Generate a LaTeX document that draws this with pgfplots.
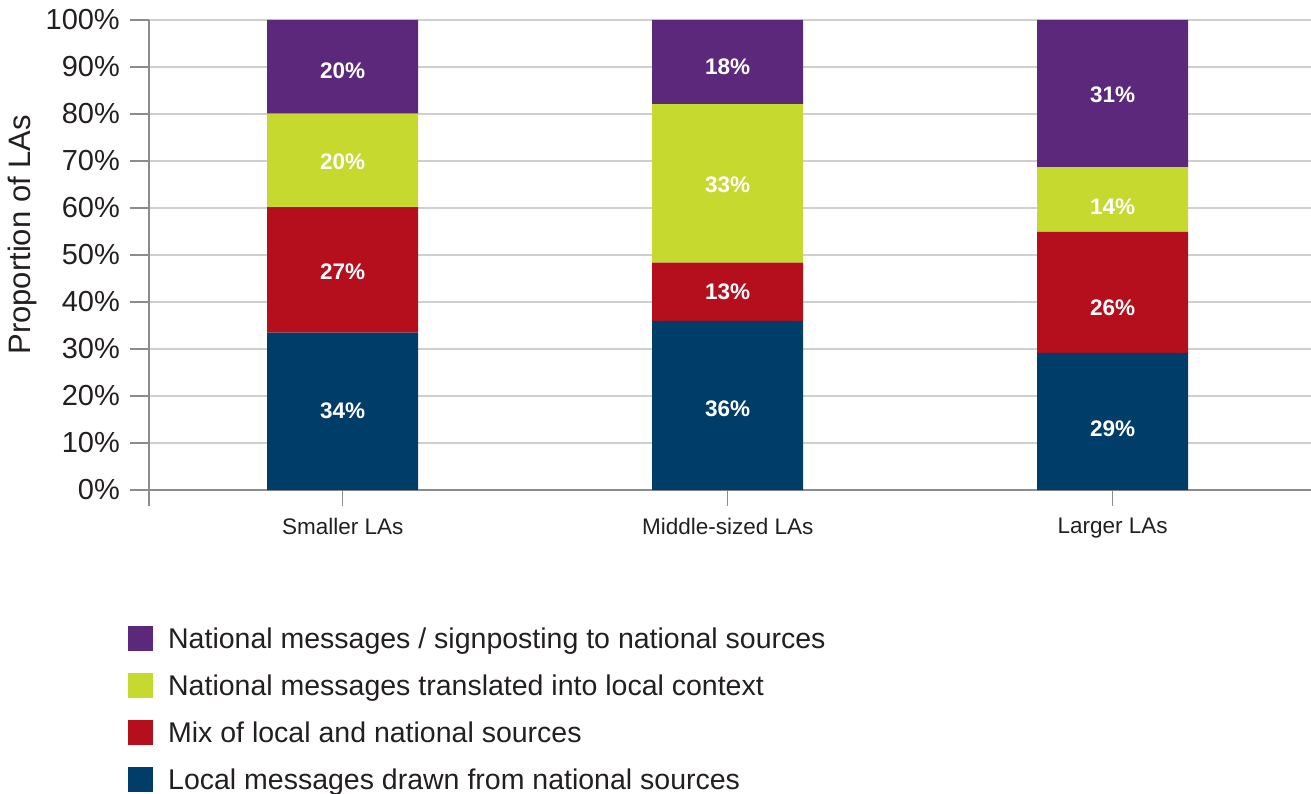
\documentclass[border=0pt]{standalone}
\usepackage{pgfplots}
\pgfplotsset{compat=1.18}
\usepackage{fontspec}
\setmainfont{Liberation Sans}
\definecolor{cPurple}{HTML}{5C287C}
\definecolor{cGreen}{HTML}{C6D92E}
\definecolor{cRed}{HTML}{B50E1C}
\definecolor{cBlue}{HTML}{013D69}
\definecolor{cText}{HTML}{231F20}
\definecolor{cAxis}{HTML}{8C8C8C}
\definecolor{cGrid}{HTML}{CFCFCF}
\begin{document}
\begin{tikzpicture}
\useasboundingbox (0pt,0pt) rectangle (1311pt,793pt);
\pgfplotsset{
  common/.style={
    at={(149pt,303pt)}, anchor=south west,
    scale only axis, width=1162pt, height=470pt,
    xmin=-0.503, xmax=2.515, ymin=0, ymax=100,
  }
}
\begin{axis}[common,
  ybar stacked, bar width=151pt,
  axis lines*=left,
  axis line style={cAxis, line width=1.2pt},
  tick style={cAxis, line width=1.2pt},
  tick align=outside,
  major tick length=19pt,
  xtick style={/pgfplots/major tick length=15.5pt},
  ytick={0,10,...,100},
  yticklabels={0\%,10\%,20\%,30\%,40\%,50\%,60\%,70\%,80\%,90\%,100\%},
  xtick={-0.503,0,1,2},
  xticklabels={,Smaller LAs,Middle-sized LAs,Larger LAs},
  yticklabel style={font=\fontsize{29}{34}\selectfont, text=cText, inner sep=0pt, xshift=-10pt},
  xticklabel style={font=\fontsize{22.5}{26}\selectfont, text=cText, inner sep=0pt, yshift=-9pt},
  ymajorgrids, grid style={cGrid, line width=1.2pt},
  ylabel={Proportion of LAs},
  every axis y label/.style={at={(axis description cs:-0.1093,0.543)}, rotate=90, anchor=center, font=\fontsize{31}{36}\selectfont, text=cText},
  reverse legend,
  legend cell align=left,
  legend style={draw=none, fill=none, at={(-0.0181,-0.288)}, anchor=north west,
    font=\fontsize{28.5}{33}\selectfont, text=cText,
    row sep=17pt, column sep=0pt, inner sep=0pt,
    nodes={inner sep=0pt, text height=21pt, text depth=7pt}},
  legend image code/.code={\fill[#1] (0pt,-9pt) rectangle (25pt,16pt);},
  every axis plot/.append style={draw=none},
]
\addplot[fill=cBlue] coordinates {(0,33.5) (1,36.0) (2,29.2)};
\addlegendentry{\hspace{15pt}Local messages drawn from national sources}
\addplot[fill=cRed] coordinates {(0,26.7) (1,12.4) (2,25.7)};
\addlegendentry{\hspace{15pt}Mix of local and national sources}
\addplot[fill=cGreen] coordinates {(0,19.9) (1,33.7) (2,13.8)};
\addlegendentry{\hspace{15pt}National messages translated into local context}
\addplot[fill=cPurple] coordinates {(0,19.9) (1,17.9) (2,31.3)};
\addlegendentry{\hspace{15pt}National messages / signposting to national sources}
\end{axis}
\begin{axis}[common, hide axis]
\addplot[draw=none, mark=none, nodes near coords, point meta=explicit symbolic,
  every node near coord/.style={anchor=center, inner sep=0pt, text=white, font=\fontsize{22.5}{26}\selectfont\bfseries}]
  table[meta=lab] {
x y lab
0 16.8 34\%
0 46.5 27\%
0 69.9 20\%
0 89.1 20\%
1 17.2 36\%
1 42.1 13\%
1 64.9 33\%
1 90.1 18\%
2 13.1 29\%
2 38.7 26\%
2 60.3 14\%
2 84.0 31\%
};
\end{axis}
\end{tikzpicture}
\end{document}
